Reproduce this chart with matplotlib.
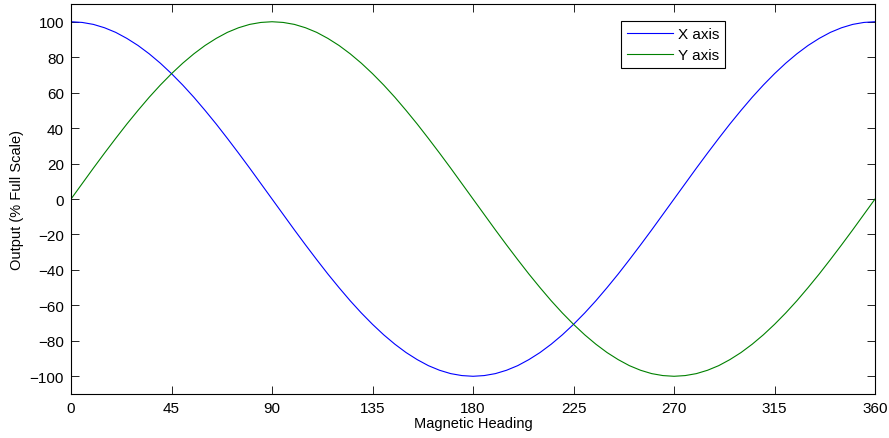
import matplotlib
matplotlib.use("Agg")
import matplotlib.pyplot as plt

plt.rcParams['font.family'] = ['Liberation Sans', 'DejaVu Sans']

heading = list(range(0, 361, 5))
x_axis = [100.0, 99.6, 98.5, 96.6, 94.0, 90.6, 86.6, 81.9, 76.6, 70.7, 64.3, 57.4, 50.0, 42.3,
          34.2, 25.9, 17.4, 8.7, 0.0,
          -8.7, -17.4, -25.9, -34.2, -42.3, -50.0, -57.4, -64.3, -70.7, -76.6, -81.9, -86.6,
          -90.6, -94.0, -96.6, -98.5, -99.6, -100.0,
          -99.6, -98.5, -96.6, -94.0, -90.6, -86.6, -81.9, -76.6, -70.7, -64.3, -57.4, -50.0,
          -42.3, -34.2, -25.9, -17.4, -8.7, 0.0,
          8.7, 17.4, 25.9, 34.2, 42.3, 50.0, 57.4, 64.3, 70.7, 76.6, 81.9, 86.6, 90.6, 94.0,
          96.6, 98.5, 99.6, 100.0]
y_axis = [0.0, 8.7, 17.4, 25.9, 34.2, 42.3, 50.0, 57.4, 64.3, 70.7, 76.6, 81.9, 86.6, 90.6,
          94.0, 96.6, 98.5, 99.6, 100.0,
          99.6, 98.5, 96.6, 94.0, 90.6, 86.6, 81.9, 76.6, 70.7, 64.3, 57.4, 50.0, 42.3, 34.2,
          25.9, 17.4, 8.7, 0.0,
          -8.7, -17.4, -25.9, -34.2, -42.3, -50.0, -57.4, -64.3, -70.7, -76.6, -81.9, -86.6,
          -90.6, -94.0, -96.6, -98.5, -99.6, -100.0,
          -99.6, -98.5, -96.6, -94.0, -90.6, -86.6, -81.9, -76.6, -70.7, -64.3, -57.4, -50.0,
          -42.3, -34.2, -25.9, -17.4, -8.7, 0.0]
x_ticks = [0, 45, 90, 135, 180, 225, 270, 315, 360]
y_ticks = [-100, -80, -60, -40, -20, 0, 20, 40, 60, 80, 100]

fig = plt.figure(figsize=(8.89, 4.39), dpi=100)
ax = fig.add_axes([0.0799, 0.1002, 0.9044, 0.8884])

ax.plot(heading, x_axis, color=(0, 0, 1), lw=0.8, label='X axis')
ax.plot(heading, y_axis, color=(0, 0.5, 0), lw=0.8, label='Y axis')

ax.set_xlim(0, 360)
ax.set_ylim(-110, 110)
ax.set_xticks(x_ticks)
ax.set_yticks(y_ticks)
ax.set_yticklabels([str(v).replace('-', '\u2212') for v in y_ticks])
ax.tick_params(direction='in', length=6, width=0.6, top=True, right=True, labelsize=11, pad=5)
for s in ax.spines.values():
    s.set_linewidth(0.8)

ax.set_xlabel('Magnetic Heading', fontsize=10.5, labelpad=1)
ax.set_ylabel('Output (% Full Scale)', fontsize=10.5, labelpad=4)

leg = ax.legend(loc='upper right', bbox_to_anchor=(0.8135, 0.956), fontsize=11, fancybox=False,
                edgecolor='black', framealpha=1, borderpad=0.4, handlelength=3.0,
                handletextpad=0.3, labelspacing=0.45, borderaxespad=0)
leg.get_frame().set_linewidth(0.8)

fig.savefig('out.png', dpi=100)
